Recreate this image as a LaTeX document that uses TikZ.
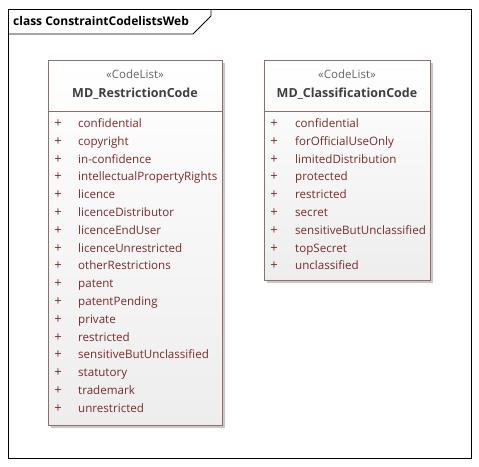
\documentclass[tikz,border=0pt]{standalone}
\usepackage{fontspec}
\setmainfont{Open Sans}
\definecolor{boxline}{HTML}{8E6E6E}
\definecolor{itemtxt}{HTML}{7A2A2A}
\definecolor{nametxt}{HTML}{3F3F3F}
\definecolor{shadowc}{HTML}{C8C8C8}
\tikzset{
  classbox/.style={draw=boxline, line width=0.8pt, top color=white, bottom color=black!7},
  shadowbox/.style={fill=shadowc, draw=none},
  stereo/.style={font=\fontsize{11.5}{13}\selectfont, text=nametxt!80, inner sep=0pt},
  cname/.style={font=\fontsize{12.5}{14}\selectfont\bfseries, text=nametxt, inner sep=0pt},
  itemtext/.style={font=\fontsize{11.6}{13}\selectfont, text=itemtxt, anchor=base west, inner sep=0pt},
  plus/.style={font=\fontsize{13}{13}\selectfont, text=itemtxt, anchor=base, inner sep=0pt},
  frameline/.style={draw=black, line width=0.8pt}
}
\begin{document}
\begin{tikzpicture}[x=1pt,y=-1pt]
\useasboundingbox (0,0) rectangle (479,466);
% frame
\draw[frameline] (8,9) rectangle (471,458);
\draw[frameline] (8,34) -- (193,34) -- (211,16) -- (211,9);
\node[anchor=west, inner sep=0pt, font=\fontsize{12}{14}\selectfont\bfseries] (title) at (13,21) {class ConstraintCodelistsWeb};
% left class
\fill[shadowbox] (51,63) rectangle (225,428);
\draw[classbox] (48,60) rectangle (222,425);
\draw[draw=boxline, line width=0.8pt] (48,111) -- (222,111);
\node[stereo] (s1) at (135,74) {«CodeList»};
\node[cname] (n1) at (135,94) {MD\_RestrictionCode};
\foreach \t [count=\i from 0] in {confidential,copyright,in-confidence,intellectualPropertyRights,licence,licenceDistributor,licenceEndUser,licenceUnrestricted,otherRestrictions,patent,patentPending,private,restricted,sensitiveButUnclassified,statutory,trademark,unrestricted}{
  \node[plus] (lp\i) at (58,{127.5+17.8*\i}) {+};
  \node[itemtext] (lt\i) at (78,{127.5+17.8*\i}) {\t};
}
% right class
\fill[shadowbox] (267,63) rectangle (433,283);
\draw[classbox] (264,60) rectangle (430,280);
\draw[draw=boxline, line width=0.8pt] (264,111) -- (430,111);
\node[stereo] (s2) at (347,74) {«CodeList»};
\node[cname] (n2) at (347,94) {MD\_ClassificationCode};
\foreach \t [count=\i from 0] in {confidential,forOfficialUseOnly,limitedDistribution,protected,restricted,secret,sensitiveButUnclassified,topSecret,unclassified}{
  \node[plus] (rp\i) at (274,{127.5+17.8*\i}) {+};
  \node[itemtext] (rt\i) at (295,{127.5+17.8*\i}) {\t};
}
\end{tikzpicture}
\end{document}
